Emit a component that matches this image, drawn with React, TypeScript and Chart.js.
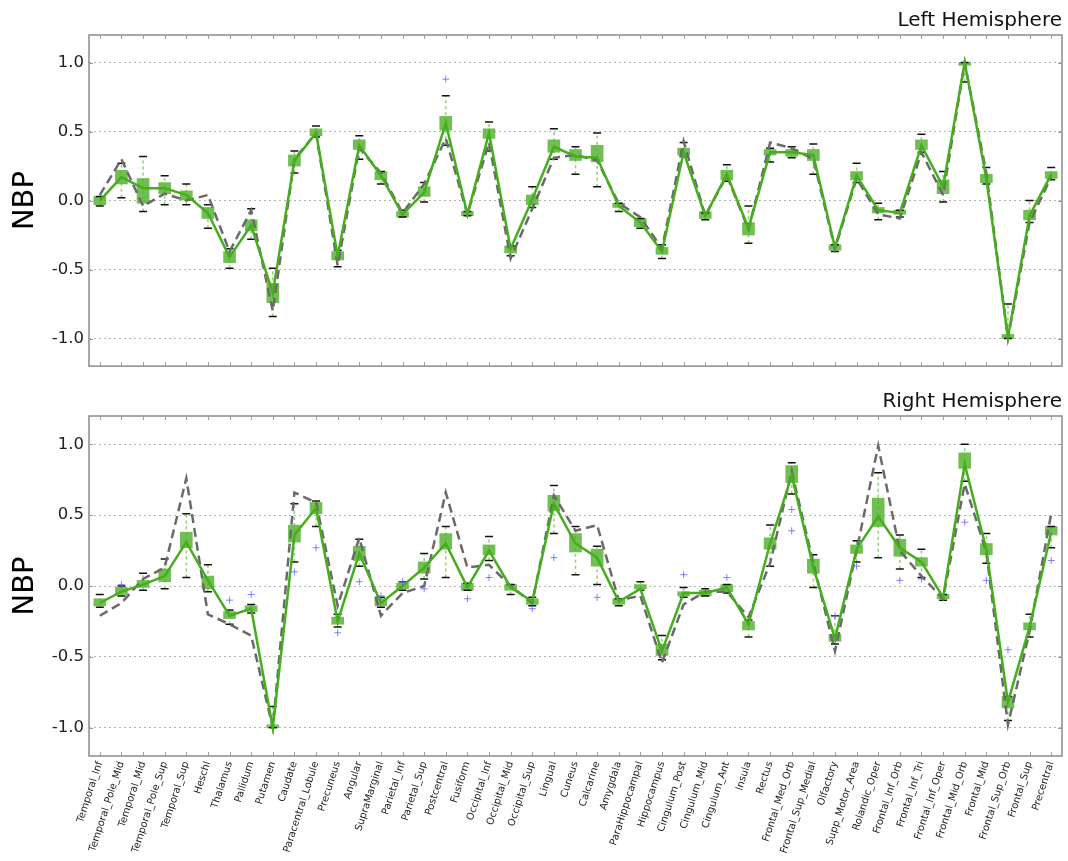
import React, { useEffect, useRef } from "react";
import { Chart, registerables } from "chart.js";

Chart.register(...registerables);

const categories = [
  "Temporal_Inf", "Temporal_Pole_Mid", "Temporal_Mid", "Temporal_Pole_Sup", "Temporal_Sup",
  "Heschl", "Thalamus", "Pallidum", "Putamen", "Caudate", "Paracentral_Lobule", "Precuneus",
  "Angular", "SupraMarginal", "Parietal_Inf", "Parietal_Sup", "Postcentral", "Fusiform",
  "Occipital_Inf", "Occipital_Mid", "Occipital_Sup", "Lingual", "Cuneus", "Calcarine",
  "Amygdala", "ParaHippocampal", "Hippocampus", "Cingulum_Post", "Cingulum_Mid", "Cingulum_Ant",
  "Insula", "Rectus", "Frontal_Med_Orb", "Frontal_Sup_Medial", "Olfactory", "Supp_Motor_Area",
  "Rolandic_Oper", "Frontal_Inf_Orb", "Frontal_Inf_Tri", "Frontal_Inf_Oper", "Frontal_Mid_Orb",
  "Frontal_Mid", "Frontal_Sup_Orb", "Frontal_Sup", "Precentral",
];

const yTickValues = [-1.0, -0.5, 0.0, 0.5, 1.0];

// ---------- Left Hemisphere ----------
const leftMedian = [0.00, 0.17, 0.09, 0.09, 0.04, -0.09, -0.41, -0.18, -0.67, 0.29, 0.49, -0.40, 0.40, 0.18, -0.10, 0.06, 0.56, -0.10, 0.49, -0.35, 0.01, 0.39, 0.32, 0.31, -0.04, -0.16, -0.37, 0.35, -0.11, 0.19, -0.20, 0.35, 0.35, 0.33, -0.34, 0.18, -0.07, -0.09, 0.40, 0.10, 1.00, 0.16, -0.99, -0.11, 0.19];
const leftBoxLo = [-0.03, 0.12, -0.02, 0.05, 0.00, -0.13, -0.45, -0.22, -0.74, 0.25, 0.47, -0.43, 0.37, 0.15, -0.12, 0.03, 0.51, -0.11, 0.45, -0.38, -0.03, 0.35, 0.29, 0.28, -0.05, -0.19, -0.39, 0.33, -0.13, 0.15, -0.25, 0.33, 0.32, 0.29, -0.36, 0.15, -0.09, -0.10, 0.37, 0.05, 0.98, 0.13, -1.00, -0.14, 0.16];
const leftBoxHi = [0.03, 0.22, 0.16, 0.13, 0.07, -0.05, -0.37, -0.14, -0.60, 0.33, 0.52, -0.37, 0.44, 0.21, -0.08, 0.10, 0.61, -0.08, 0.52, -0.33, 0.04, 0.44, 0.37, 0.40, -0.02, -0.13, -0.34, 0.38, -0.08, 0.22, -0.16, 0.37, 0.37, 0.37, -0.32, 0.21, -0.05, -0.07, 0.44, 0.15, 1.00, 0.19, -0.97, -0.07, 0.21];
const leftWhiskerLo = [-0.04, 0.02, -0.08, -0.03, -0.03, -0.20, -0.49, -0.28, -0.84, 0.20, 0.46, -0.48, 0.30, 0.12, -0.12, -0.01, 0.40, -0.11, 0.36, -0.40, -0.05, 0.30, 0.19, 0.10, -0.08, -0.20, -0.42, 0.32, -0.14, 0.14, -0.31, 0.28, 0.31, 0.19, -0.37, 0.13, -0.14, -0.12, 0.35, -0.01, 0.86, 0.12, -1.00, -0.16, 0.15];
const leftWhiskerHi = [0.03, 0.27, 0.32, 0.18, 0.12, -0.03, -0.35, -0.06, -0.49, 0.36, 0.54, -0.36, 0.47, 0.21, -0.07, 0.13, 0.76, -0.08, 0.57, -0.33, 0.10, 0.52, 0.39, 0.49, -0.02, -0.13, -0.32, 0.42, -0.09, 0.26, -0.04, 0.38, 0.39, 0.41, -0.32, 0.27, -0.02, -0.07, 0.48, 0.21, 1.00, 0.24, -0.75, 0.00, 0.24];
const leftDashed = [0.04, 0.30, -0.04, 0.05, 0.00, 0.04, -0.37, -0.07, -0.80, 0.30, 0.49, -0.47, 0.38, 0.20, -0.09, 0.12, 0.45, -0.10, 0.42, -0.42, -0.06, 0.31, 0.33, 0.29, -0.02, -0.12, -0.35, 0.43, -0.11, 0.18, -0.21, 0.42, 0.38, 0.30, -0.35, 0.16, -0.10, -0.13, 0.35, 0.04, 1.00, 0.20, -1.00, -0.16, 0.17];
const leftFlierCats = ["Postcentral"];
const leftFlierVals = [0.88];

// ---------- Right Hemisphere ----------
const rightMedian = [-0.12, -0.04, 0.01, 0.07, 0.31, 0.04, -0.21, -0.16, -1.00, 0.36, 0.55, -0.25, 0.23, -0.12, 0.00, 0.13, 0.30, -0.01, 0.25, -0.01, -0.11, 0.58, 0.30, 0.20, -0.11, -0.02, -0.46, -0.05, -0.05, -0.01, -0.27, 0.30, 0.78, 0.13, -0.37, 0.26, 0.49, 0.27, 0.17, -0.08, 0.86, 0.26, -0.82, -0.29, 0.38];
const rightBoxLo = [-0.14, -0.06, -0.01, 0.03, 0.27, -0.02, -0.23, -0.18, -1.00, 0.31, 0.51, -0.27, 0.18, -0.14, -0.02, 0.09, 0.26, -0.03, 0.22, -0.03, -0.13, 0.53, 0.24, 0.14, -0.13, -0.02, -0.49, -0.07, -0.07, -0.04, -0.31, 0.26, 0.73, 0.09, -0.39, 0.23, 0.42, 0.21, 0.14, -0.09, 0.83, 0.22, -0.86, -0.31, 0.36];
const rightBoxHi = [-0.09, -0.01, 0.04, 0.12, 0.38, 0.07, -0.18, -0.14, -0.98, 0.43, 0.59, -0.22, 0.28, -0.09, 0.02, 0.17, 0.37, 0.02, 0.29, 0.01, -0.09, 0.64, 0.37, 0.26, -0.09, 0.01, -0.41, -0.04, -0.03, 0.01, -0.25, 0.34, 0.85, 0.19, -0.34, 0.29, 0.62, 0.33, 0.20, -0.06, 0.94, 0.30, -0.78, -0.26, 0.42];
const rightWhiskerLo = [-0.15, -0.07, -0.03, -0.02, 0.06, -0.04, -0.27, -0.19, -1.00, 0.17, 0.42, -0.29, 0.14, -0.15, -0.03, 0.05, 0.06, -0.03, 0.18, -0.06, -0.14, 0.37, 0.08, 0.01, -0.14, -0.03, -0.52, -0.08, -0.07, -0.05, -0.36, 0.14, 0.65, -0.01, -0.41, 0.17, 0.20, 0.12, 0.06, -0.10, 0.74, 0.16, -0.95, -0.36, 0.27];
const rightWhiskerHi = [-0.06, 0.00, 0.09, 0.19, 0.51, 0.15, -0.17, -0.13, -0.85, 0.58, 0.60, -0.20, 0.33, -0.08, 0.03, 0.23, 0.42, 0.02, 0.35, 0.01, -0.08, 0.71, 0.42, 0.28, -0.09, 0.03, -0.35, -0.01, -0.02, 0.01, -0.24, 0.43, 0.87, 0.22, -0.21, 0.32, 0.80, 0.36, 0.26, -0.06, 1.00, 0.37, -0.78, -0.20, 0.42];
const rightDashed = [-0.21, -0.12, 0.05, 0.13, 0.76, -0.20, -0.27, -0.35, -1.00, 0.66, 0.59, -0.14, 0.34, -0.21, -0.05, 0.00, 0.66, 0.13, 0.15, 0.00, -0.12, 0.64, 0.39, 0.43, -0.10, -0.07, -0.54, -0.13, -0.04, -0.04, -0.22, 0.16, 0.81, 0.16, -0.46, 0.25, 0.99, 0.25, 0.07, -0.09, 0.72, 0.24, -0.98, -0.32, 0.51];
const rightFlierCats = ["Temporal_Pole_Mid", "Thalamus", "Pallidum", "Caudate", "Paracentral_Lobule", "Precuneus", "Angular", "SupraMarginal", "Parietal_Inf", "Parietal_Sup", "Fusiform", "Occipital_Inf", "Occipital_Sup", "Lingual", "Calcarine", "Cingulum_Post", "Cingulum_Ant", "Frontal_Med_Orb", "Frontal_Med_Orb", "Olfactory", "Supp_Motor_Area", "Frontal_Inf_Orb", "Frontal_Inf_Tri", "Frontal_Mid_Orb", "Frontal_Mid", "Frontal_Sup_Orb", "Precentral"];
const rightFlierVals = [0.01, -0.10, -0.06, 0.10, 0.27, -0.33, 0.03, -0.07, 0.03, -0.02, -0.09, 0.06, -0.16, 0.20, -0.08, 0.08, 0.06, 0.54, 0.39, -0.21, 0.14, 0.04, 0.05, 0.45, 0.04, -0.45, 0.18];

const FONT = "'DejaVu Sans', 'Liberation Sans', sans-serif";

const framePlugin = {
  id: "frame",
  afterDraw(chart: any) {
    const { ctx, chartArea: a, scales } = chart;
    ctx.save();
    ctx.setLineDash([]);
    ctx.strokeStyle = "#8a8a8a";
    ctx.lineWidth = 1.5;
    ctx.strokeRect(a.left, a.top, a.right - a.left, a.bottom - a.top);
    ctx.lineWidth = 1;
    ctx.strokeStyle = "#9a9a9a";
    const xs = scales.x;
    ctx.beginPath();
    for (let i = 0; i < xs.ticks.length; i++) {
      const px = Math.round(xs.getPixelForTick(i)) + 0.5;
      ctx.moveTo(px, a.top);
      ctx.lineTo(px, a.top + 4);
      ctx.moveTo(px, a.bottom);
      ctx.lineTo(px, a.bottom - 4);
    }
    const ys = scales.y;
    ys.ticks.forEach((t: any) => {
      const py = Math.round(ys.getPixelForValue(t.value)) + 0.5;
      ctx.moveTo(a.left, py);
      ctx.lineTo(a.left + 4, py);
      ctx.moveTo(a.right, py);
      ctx.lineTo(a.right - 4, py);
    });
    ctx.stroke();
    ctx.restore();
  },
};

type PanelData = {
  title: string;
  median: number[];
  boxLo: number[];
  boxHi: number[];
  whLo: number[];
  whHi: number[];
  dashed: number[];
  flierCats: string[];
  flierVals: number[];
  showLabels: boolean;
  xHeight: number;
};

function makeConfig(p: PanelData): any {
  const whiskerPts: any[] = [];
  const capPts: any[] = [];
  categories.forEach((c, i) => {
    whiskerPts.push({ x: c, y: p.whLo[i] }, { x: c, y: p.whHi[i] }, { x: c, y: null });
    capPts.push({ x: c, y: p.whLo[i] }, { x: c, y: p.whHi[i] });
  });
  return {
    type: "bar",
    data: {
      labels: categories,
      datasets: [
        {
          type: "line",
          data: whiskerPts,
          borderColor: "#8fd36c",
          borderWidth: 1.5,
          borderDash: [3, 3],
          pointRadius: 0,
          spanGaps: false,
          order: 6,
        },
        {
          type: "bar",
          data: categories.map((_, i) => [p.boxLo[i], p.boxHi[i]]),
          backgroundColor: "rgba(88,180,52,0.85)",
          borderWidth: 0,
          barThickness: 12,
          grouped: false,
          order: 5,
        },
        {
          type: "line",
          data: capPts,
          showLine: false,
          pointStyle: "line",
          pointRadius: 4,
          pointBorderWidth: 1.5,
          pointBorderColor: "#111111",
          pointBackgroundColor: "#111111",
          order: 4,
        },
        {
          type: "line",
          data: p.dashed,
          borderColor: "#6a6a6a",
          borderWidth: 2.5,
          borderDash: [9, 5],
          pointRadius: 0,
          tension: 0,
          order: 3,
        },
        {
          type: "line",
          data: p.median,
          borderColor: "#45ad1e",
          borderWidth: 2.5,
          pointRadius: 0,
          tension: 0,
          order: 2,
        },
        {
          type: "line",
          data: p.flierCats.map((c, k) => ({ x: c, y: p.flierVals[k] })),
          showLine: false,
          pointStyle: "cross",
          pointRadius: 3.5,
          pointBorderWidth: 1,
          pointBorderColor: "rgba(90,90,255,0.75)",
          order: 1,
        },
      ],
    },
    options: {
      responsive: false,
      animation: false,
      devicePixelRatio: 1,
      layout: { padding: { left: 0, right: 6, top: 0, bottom: 0 } },
      plugins: {
        legend: { display: false },
        tooltip: { enabled: false },
        title: {
          display: true,
          text: p.title,
          align: "end",
          color: "#111",
          font: { family: FONT, size: 20, weight: "normal", lineHeight: 1.2 },
          padding: { top: 9, bottom: 2 },
        },
      },
      scales: {
        x: {
          type: "category",
          offset: true,
          grid: { display: false, drawTicks: false },
          border: { display: false },
          ticks: {
            display: p.showLabels,
            autoSkip: false,
            maxRotation: 72,
            minRotation: 72,
            padding: 4,
            color: "#222",
            font: { family: FONT, size: 10 },
          },
          afterFit: (s: any) => {
            s.height = p.xHeight;
          },
        },
        y: {
          min: -1.2,
          max: 1.2,
          afterBuildTicks: (s: any) => {
            s.ticks = yTickValues.map((v) => ({ value: v }));
          },
          afterFit: (s: any) => {
            s.width = 89;
          },
          grid: { color: "#b5b5b5", lineWidth: 1, drawTicks: false, borderDash: [2, 3] },
          border: { display: false, dash: [2, 3] },
          ticks: {
            padding: 5,
            color: "#222",
            font: { family: FONT, size: 16.5 },
            callback: (v: any) => Number(v).toFixed(1),
          },
          title: {
            display: true,
            text: "NBP",
            color: "#000",
            font: { family: FONT, size: 29, lineHeight: 1.2 },
            padding: { top: 7.6, bottom: 0 },
          },
        },
      },
    },
    plugins: [framePlugin],
  };
}

function Panel(props: { data: PanelData; top: number; height: number }) {
  const ref = useRef<HTMLCanvasElement | null>(null);
  useEffect(() => {
    if (!ref.current) return;
    const chart = new Chart(ref.current, makeConfig(props.data));
    return () => chart.destroy();
  }, []);
  return (
    <canvas
      ref={ref}
      width={1068}
      height={props.height}
      style={{ position: "absolute", left: 0, top: props.top, width: 1068, height: props.height, display: "block" }}
    />
  );
}

const leftPanel: PanelData = {
  title: "Left Hemisphere",
  median: leftMedian,
  boxLo: leftBoxLo,
  boxHi: leftBoxHi,
  whLo: leftWhiskerLo,
  whHi: leftWhiskerHi,
  dashed: leftDashed,
  flierCats: leftFlierCats,
  flierVals: leftFlierVals,
  showLabels: false,
  xHeight: 3,
};

const rightPanel: PanelData = {
  title: "Right Hemisphere",
  median: rightMedian,
  boxLo: rightBoxLo,
  boxHi: rightBoxHi,
  whLo: rightWhiskerLo,
  whHi: rightWhiskerHi,
  dashed: rightDashed,
  flierCats: rightFlierCats,
  flierVals: rightFlierVals,
  showLabels: true,
  xHeight: 105,
};

export default function App() {
  return (
    <div style={{ position: "absolute", left: 0, top: 0, width: 1068, height: 861, background: "#fff", overflow: "hidden" }}>
      <Panel data={leftPanel} top={0} height={381} />
      <Panel data={rightPanel} top={381} height={480} />
    </div>
  );
}
